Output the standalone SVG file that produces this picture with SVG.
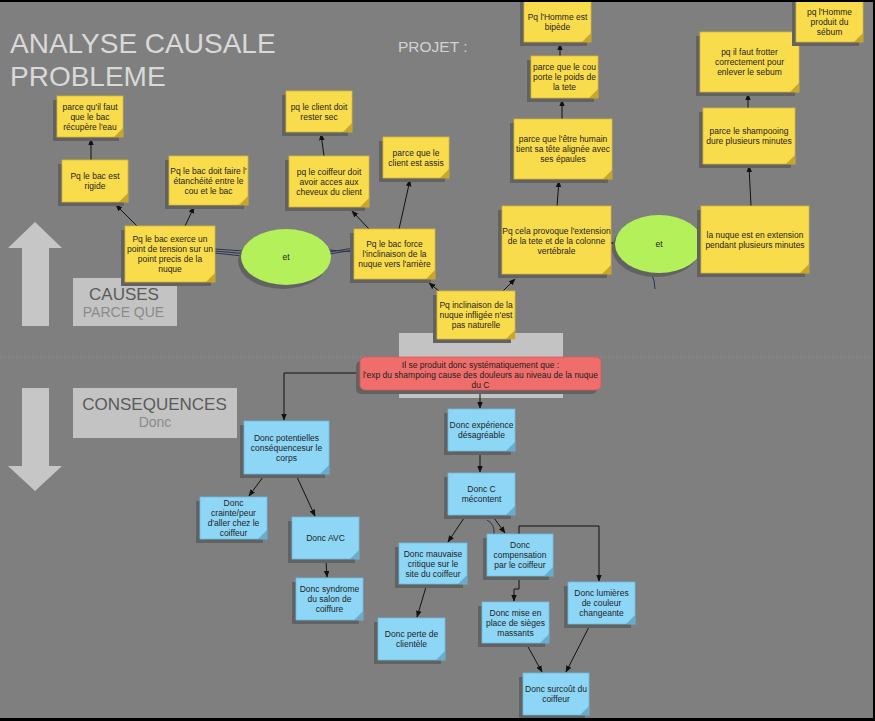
<svg xmlns="http://www.w3.org/2000/svg" width="875" height="721" viewBox="0 0 875 721">
<style>
.sh{fill:#626262}
.y .b{fill:#f9dc4c;stroke:#d8b732;stroke-width:0.8}
.y .f{fill:#c9a52a}
.bl .b{fill:#8ed6f6;stroke:#6dbde3;stroke-width:0.8}
.bl .f{fill:#68add0}
.t{font-family:"Liberation Sans",Arial,sans-serif;font-size:8.5px;fill:#1e1e1e;text-anchor:middle}
.c{stroke:#111;stroke-width:1;fill:none;marker-end:url(#ah)}
.nv{stroke:#28334f;stroke-width:1;fill:none}
.lbl{font-family:"Liberation Sans",Arial,sans-serif;text-anchor:middle}
</style>
<defs>
<marker id="ah" markerUnits="userSpaceOnUse" markerWidth="7" markerHeight="7" viewBox="0 0 10 10" refX="9" refY="5" orient="auto">
<path d="M0,1 L10,5 L0,9 Z" fill="#111"/>
</marker>
</defs>
<rect x="0" y="0" width="875" height="721" fill="#000"/>
<rect x="0" y="2" width="873" height="716" fill="#7f7f7f"/>
<line x1="0" y1="357" x2="873" y2="357" stroke="#8e8e8e" stroke-width="1" stroke-dasharray="2 2"/>
<g id="title" font-family="'Liberation Sans',Arial,sans-serif" fill="#d9d9d9">
<text x="10" y="53" font-size="28">ANALYSE CAUSALE</text>
<text x="10" y="86" font-size="28">PROBLEME</text>
<text x="398" y="52" font-size="15.5" fill="#d2d2d2">PROJET :</text>
</g>
<g id="arrow-up"><polygon points="35,222 62,248 49,248 49,326 22,326 22,248 8,248" fill="#c6c6c6"/></g>
<g id="arrow-down"><polygon points="22,388 49,388 49,466 62,466 35,491 8,466 22,466" fill="#c6c6c6"/></g>
<g id="lbl-causes"><rect x="73" y="278" width="104" height="48" fill="#c3c3c3"/>
<text class="lbl" x="124" y="300" font-size="17" fill="#5a5a5a">CAUSES</text>
<text class="lbl" x="123.5" y="317" font-size="14" fill="#8a8a8a">PARCE QUE</text></g>
<g id="lbl-consequences"><rect x="73" y="388" width="164" height="50" fill="#c3c3c3"/>
<text class="lbl" x="154.5" y="410" font-size="17" fill="#5a5a5a">CONSEQUENCES</text>
<text class="lbl" x="155" y="427" font-size="14" fill="#8a8a8a">Donc</text></g>
<g id="gray-panel"><rect x="399" y="333" width="164" height="65" fill="#c3c3c3"/></g>

<g id="connectors">
<path class="c" d="M91,160 L91,139"/>
<path class="c" d="M137,226 L116,205"/>
<path class="c" d="M185,226 L194,207"/>
<path class="c" d="M324,156 L321,134"/>
<path class="c" d="M369,229 L352,211"/>
<path class="c" d="M399,229 L410,180"/>
<path class="c" d="M439,291 L429,283"/>
<path class="c" d="M503,291 L515,279"/>
<path class="c" d="M557,206 L559,181"/>
<path class="c" d="M562,119 L562,100"/>
<path class="c" d="M560,56 L560,44"/>
<path class="c" d="M751,206 L749,166"/>
<path class="c" d="M748,108 L748,94"/>
<path class="c" d="M360,373 H284 V420"/>
<path class="c" d="M480,390 V408"/>
<path class="c" d="M480,451 V472"/>
<path class="c" d="M263,477 L249,496"/>
<path class="c" d="M297,477 L315,516"/>
<path class="c" d="M326,561 L327,577"/>
<path class="c" d="M464,518 L448,542"/>
<path class="c" d="M426,587 L417,617"/>
<path class="c" d="M494,518 L505,533"/>
<path class="c" d="M519,534 V526 H599 V581"/>
<path class="c" d="M519,576 V589 H514 V601"/>
<path class="c" d="M527,645 L542,672"/>
<path class="c" d="M589,627 L566,672"/>
<path class="nv" d="M215,249 L243,251 M215,251 L243,253.5 M215,253 L243,256"/>
<path class="nv" d="M329,252 L354,248 M329,254 L354,250 M329,250 L354,252"/>
<path d="M611,243 L616,243" stroke="#111" stroke-width="1.5"/>
<path class="nv" d="M651,273 Q655,280 655,289"/>
<path class="nv" d="M487,520 Q495,524 494,534"/>
</g>

<g id="et1"><ellipse cx="283" cy="261" rx="45" ry="28" fill="#626262"/><ellipse cx="286" cy="257" rx="45" ry="28" fill="#b3f05a"/><text class="t" x="286" y="260">et</text></g>
<g id="et2"><ellipse cx="656" cy="248" rx="44" ry="29" fill="#626262"/><ellipse cx="659" cy="244" rx="44" ry="29" fill="#b3f05a"/><text class="t" x="659" y="247">et</text></g>

<g id="y1" class="y"><rect class="sh" x="53" y="100" width="66" height="41"/><rect class="b" x="57" y="96" width="66" height="41"/><path class="f" d="M123,128 L123,137 L114,137Z"/><text class="t" x="90" y="109.5"><tspan x="90">parce qu'il faut</tspan><tspan x="90" dy="10">que le bac</tspan><tspan x="90" dy="10">récupère l'eau</tspan></text></g>
<g id="y2" class="y"><rect class="sh" x="58" y="164" width="66" height="42"/><rect class="b" x="62" y="160" width="66" height="42"/><path class="f" d="M128,193 L128,202 L119,202Z"/><text class="t" x="95" y="179"><tspan x="95">Pq le bac est</tspan><tspan x="95" dy="10">rigide</tspan></text></g>
<g id="y3" class="y"><rect class="sh" x="165" y="160" width="79" height="49"/><rect class="b" x="169" y="156" width="79" height="49"/><path class="f" d="M248,196 L248,205 L239,205Z"/><text class="t" x="208.5" y="173.5"><tspan x="208.5">Pq le bac doit faire l'</tspan><tspan x="208.5" dy="10">étanchéité entre le</tspan><tspan x="208.5" dy="10">cou et le bac</tspan></text></g>
<g id="y4" class="y"><rect class="sh" x="121" y="230" width="90" height="56"/><rect class="b" x="125" y="226" width="90" height="56"/><path class="f" d="M215,273 L215,282 L206,282Z"/><text class="t" x="170" y="242"><tspan x="170">Pq le bac exerce un</tspan><tspan x="170" dy="10">point de tension sur un</tspan><tspan x="170" dy="10">point precis de la</tspan><tspan x="170" dy="10">nuque</tspan></text></g>
<g id="y5" class="y"><rect class="sh" x="282" y="95" width="66" height="41"/><rect class="b" x="286" y="91" width="66" height="41"/><path class="f" d="M352,123 L352,132 L343,132Z"/><text class="t" x="319" y="109.5"><tspan x="319">pq le client doit</tspan><tspan x="319" dy="10">rester sec</tspan></text></g>
<g id="y6" class="y"><rect class="sh" x="285" y="160" width="80" height="51"/><rect class="b" x="289" y="156" width="80" height="51"/><path class="f" d="M369,198 L369,207 L360,207Z"/><text class="t" x="329" y="174.5"><tspan x="329">pq le coiffeur doit</tspan><tspan x="329" dy="10">avoir acces aux</tspan><tspan x="329" dy="10">cheveux du client</tspan></text></g>
<g id="y7" class="y"><rect class="sh" x="379" y="141" width="66" height="41"/><rect class="b" x="383" y="137" width="66" height="41"/><path class="f" d="M449,169 L449,178 L440,178Z"/><text class="t" x="416" y="155.5"><tspan x="416">parce que le</tspan><tspan x="416" dy="10">client est assis</tspan></text></g>
<g id="y8" class="y"><rect class="sh" x="350" y="233" width="81" height="50"/><rect class="b" x="354" y="229" width="81" height="50"/><path class="f" d="M435,270 L435,279 L426,279Z"/><text class="t" x="394.5" y="247"><tspan x="394.5">Pq le bac force</tspan><tspan x="394.5" dy="10">l'inclinaison de la</tspan><tspan x="394.5" dy="10">nuque vers l'arrière</tspan></text></g>
<g id="y9" class="y"><rect class="sh" x="433" y="295" width="78" height="48"/><rect class="b" x="437" y="291" width="78" height="48"/><path class="f" d="M515,330 L515,339 L506,339Z"/><text class="t" x="476" y="308"><tspan x="476">Pq inclinaison de la</tspan><tspan x="476" dy="10">nuque infligée n'est</tspan><tspan x="476" dy="10">pas naturelle</tspan></text></g>
<g id="y10" class="y"><rect class="sh" x="498" y="210" width="109" height="68"/><rect class="b" x="502" y="206" width="109" height="68"/><path class="f" d="M611,265 L611,274 L602,274Z"/><text class="t" x="556.5" y="234"><tspan x="556.5">Pq cela provoque l'extension</tspan><tspan x="556.5" dy="10">de la tete et de la colonne</tspan><tspan x="556.5" dy="10">vertébrale</tspan></text></g>
<g id="y11" class="y"><rect class="sh" x="510" y="123" width="98" height="60"/><rect class="b" x="514" y="119" width="98" height="60"/><path class="f" d="M612,170 L612,179 L603,179Z"/><text class="t" x="563" y="142"><tspan x="563">parce que l'être humain</tspan><tspan x="563" dy="10">tient sa tête alignée avec</tspan><tspan x="563" dy="10">ses épaules</tspan></text></g>
<g id="y12" class="y"><rect class="sh" x="527" y="60" width="67" height="42"/><rect class="b" x="531" y="56" width="67" height="42"/><path class="f" d="M598,89 L598,98 L589,98Z"/><text class="t" x="564.5" y="70"><tspan x="564.5">parce que le cou</tspan><tspan x="564.5" dy="10">porte le poids de</tspan><tspan x="564.5" dy="10">la tete</tspan></text></g>
<g id="y13" class="y"><rect class="sh" x="520" y="2" width="67" height="44"/><rect class="b" x="524" y="-2" width="67" height="44"/><path class="f" d="M591,33 L591,42 L582,42Z"/><text class="t" x="557.5" y="20"><tspan x="557.5">Pq l'Homme est</tspan><tspan x="557.5" dy="10">bipède</tspan></text></g>
<g id="y14" class="y"><rect class="sh" x="697" y="210" width="108" height="67"/><rect class="b" x="701" y="206" width="108" height="67"/><path class="f" d="M809,264 L809,273 L800,273Z"/><text class="t" x="755" y="237.5"><tspan x="755">la nuque est en extension</tspan><tspan x="755" dy="10">pendant plusieurs minutes</tspan></text></g>
<g id="y15" class="y"><rect class="sh" x="699" y="112" width="92" height="56"/><rect class="b" x="703" y="108" width="92" height="56"/><path class="f" d="M795,155 L795,164 L786,164Z"/><text class="t" x="749" y="134"><tspan x="749">parce le shampooing</tspan><tspan x="749" dy="10">dure plusieurs minutes</tspan></text></g>
<g id="y16" class="y"><rect class="sh" x="696" y="36" width="99" height="60"/><rect class="b" x="700" y="32" width="99" height="60"/><path class="f" d="M799,83 L799,92 L790,92Z"/><text class="t" x="749.5" y="55"><tspan x="749.5">pq il faut frotter</tspan><tspan x="749.5" dy="10">correctement pour</tspan><tspan x="749.5" dy="10">enlever le sebum</tspan></text></g>
<g id="y17" class="y"><rect class="sh" x="792" y="2" width="67" height="44"/><rect class="b" x="796" y="-2" width="67" height="44"/><path class="f" d="M863,33 L863,42 L854,42Z"/><text class="t" x="829.5" y="15"><tspan x="829.5">pq l'Homme</tspan><tspan x="829.5" dy="10">produit du</tspan><tspan x="829.5" dy="10">sébum</tspan></text></g>

<g id="r1"><rect x="356" y="361" width="241" height="33" rx="5" fill="#626262"/><rect x="360" y="357" width="241" height="33" rx="5" fill="#ef6e6b" stroke="#d65856" stroke-width="0.8"/><text class="t" x="480.5" y="368"><tspan x="480.5">Il se produit donc systématiquement que :</tspan><tspan x="480.5" dy="10">l'exp du shampoing cause des douleurs au niveau de la nuque</tspan><tspan x="480.5" dy="10">du C</tspan></text></g>

<g id="b1" class="bl"><rect class="sh" x="240" y="425" width="85" height="53"/><rect class="b" x="244" y="421" width="85" height="53"/><path class="f" d="M329,465 L329,474 L320,474Z"/><text class="t" x="286.5" y="440.5"><tspan x="286.5">Donc potentielles</tspan><tspan x="286.5" dy="10">conséquencesur le</tspan><tspan x="286.5" dy="10">corps</tspan></text></g>
<g id="b2" class="bl"><rect class="sh" x="444" y="413" width="67" height="42"/><rect class="b" x="448" y="409" width="67" height="42"/><path class="f" d="M515,442 L515,451 L506,451Z"/><text class="t" x="481.5" y="428"><tspan x="481.5">Donc expérience</tspan><tspan x="481.5" dy="10">désagréable</tspan></text></g>
<g id="b3" class="bl"><rect class="sh" x="444" y="477" width="67" height="42"/><rect class="b" x="448" y="473" width="67" height="42"/><path class="f" d="M515,506 L515,515 L506,515Z"/><text class="t" x="481.5" y="492"><tspan x="481.5">Donc C</tspan><tspan x="481.5" dy="10">mécontent</tspan></text></g>
<g id="b4" class="bl"><rect class="sh" x="196" y="501" width="67" height="42"/><rect class="b" x="200" y="497" width="67" height="42"/><path class="f" d="M267,530 L267,539 L258,539Z"/><text class="t" x="233.5" y="506"><tspan x="233.5">Donc</tspan><tspan x="233.5" dy="10">crainte/peur</tspan><tspan x="233.5" dy="10">d'aller chez le</tspan><tspan x="233.5" dy="10">coiffeur</tspan></text></g>
<g id="b5" class="bl"><rect class="sh" x="288" y="521" width="67" height="42"/><rect class="b" x="292" y="517" width="67" height="42"/><path class="f" d="M359,550 L359,559 L350,559Z"/><text class="t" x="325.5" y="541">Donc AVC</text></g>
<g id="b6" class="bl"><rect class="sh" x="292" y="582" width="67" height="42"/><rect class="b" x="296" y="578" width="67" height="42"/><path class="f" d="M363,611 L363,620 L354,620Z"/><text class="t" x="329.5" y="592"><tspan x="329.5">Donc syndrome</tspan><tspan x="329.5" dy="10">du salon de</tspan><tspan x="329.5" dy="10">coiffure</tspan></text></g>
<g id="b7" class="bl"><rect class="sh" x="395" y="547" width="68" height="41"/><rect class="b" x="399" y="543" width="68" height="41"/><path class="f" d="M467,575 L467,584 L458,584Z"/><text class="t" x="433" y="556.5"><tspan x="433">Donc mauvaise</tspan><tspan x="433" dy="10">critique sur le</tspan><tspan x="433" dy="10">site du coiffeur</tspan></text></g>
<g id="b8" class="bl"><rect class="sh" x="374" y="622" width="67" height="42"/><rect class="b" x="378" y="618" width="67" height="42"/><path class="f" d="M445,651 L445,660 L436,660Z"/><text class="t" x="411.5" y="637"><tspan x="411.5">Donc perte de</tspan><tspan x="411.5" dy="10">clientèle</tspan></text></g>
<g id="b9" class="bl"><rect class="sh" x="483" y="538" width="66" height="42"/><rect class="b" x="487" y="534" width="66" height="42"/><path class="f" d="M553,567 L553,576 L544,576Z"/><text class="t" x="520" y="548"><tspan x="520">Donc</tspan><tspan x="520" dy="10">compensation</tspan><tspan x="520" dy="10">par le coiffeur</tspan></text></g>
<g id="b10" class="bl"><rect class="sh" x="478" y="606" width="67" height="41"/><rect class="b" x="482" y="602" width="67" height="41"/><path class="f" d="M549,634 L549,643 L540,643Z"/><text class="t" x="515.5" y="615.5"><tspan x="515.5">Donc mise en</tspan><tspan x="515.5" dy="10">place de sièges</tspan><tspan x="515.5" dy="10">massants</tspan></text></g>
<g id="b11" class="bl"><rect class="sh" x="564" y="586" width="67" height="42"/><rect class="b" x="568" y="582" width="67" height="42"/><path class="f" d="M635,615 L635,624 L626,624Z"/><text class="t" x="601.5" y="596"><tspan x="601.5">Donc lumières</tspan><tspan x="601.5" dy="10">de couleur</tspan><tspan x="601.5" dy="10">changeante</tspan></text></g>
<g id="b12" class="bl"><rect class="sh" x="519" y="677" width="66" height="42"/><rect class="b" x="523" y="673" width="66" height="42"/><path class="f" d="M589,706 L589,715 L580,715Z"/><text class="t" x="556" y="692"><tspan x="556">Donc surcoût du</tspan><tspan x="556" dy="10">coiffeur</tspan></text></g>
<rect x="0" y="718" width="875" height="3" fill="#000"/>
<rect x="873" y="0" width="2" height="721" fill="#000"/>
<rect x="0" y="0" width="875" height="2" fill="#000"/>
</svg>
